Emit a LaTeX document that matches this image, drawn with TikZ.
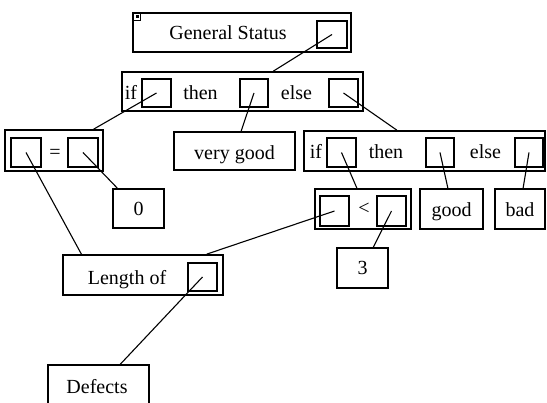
\documentclass[tikz,border=0pt]{standalone}
\usepackage{fontspec}
\setmainfont{Liberation Serif}
\usetikzlibrary{calc}
\begin{document}
\begin{tikzpicture}[x=1pt,y=-1pt,
  frame/.style={draw, line width=1.7pt, rectangle, inner sep=0pt},
  slot/.style={draw, line width=1.4pt, rectangle, inner sep=0pt},
  link/.style={line width=1.1pt},
  lbl/.style={inner sep=0pt, anchor=base, font=\fontsize{20}{24}\selectfont},
  op/.style={inner sep=0pt, font=\fontsize{20}{24}\selectfont}]
\useasboundingbox (0,0) rectangle (547,403);
\clip (0,0) rectangle (547,403);

% ---- General Status
\node[frame, minimum width=218pt, minimum height=39pt] (GS) at (242,32.5) {};
\node[slot, minimum width=30pt, minimum height=27pt] (GSq) at (332,34.5) {};
\node[draw, line width=0.9pt, minimum width=7pt, minimum height=7pt, inner sep=0pt] (GSmark) at (137,16.5) {};
\node[fill, minimum width=3pt, minimum height=3pt, inner sep=0pt] (GSdot) at (GSmark.center) {};
\node[lbl] (tGS) at (228,39.5) {General Status};

% ---- outer if / then / else
\node[frame, minimum width=241pt, minimum height=39pt] (ITE1) at (242.5,91.5) {};
\node[slot, minimum width=29pt, minimum height=28pt] (ITE1a) at (156.5,93) {};
\node[slot, minimum width=28pt, minimum height=28pt] (ITE1b) at (254,93) {};
\node[slot, minimum width=29pt, minimum height=28pt] (ITE1c) at (343.5,93) {};
\node[lbl] (tIf1) at (131,99.5) {if};
\node[lbl] (tThen1) at (200.5,99.5) {then};
\node[lbl] (tElse1) at (296.5,99.5) {else};

% ---- comparison  [] = []
\node[frame, minimum width=98pt, minimum height=41pt] (EQ) at (54,150.5) {};
\node[slot, minimum width=30pt, minimum height=29pt] (EQa) at (26,152.5) {};
\node[slot, minimum width=30pt, minimum height=29pt] (EQb) at (83,152.5) {};
\node[op] (tEq) at (55,154) {=};

\node[frame, minimum width=51pt, minimum height=39pt] (ZERO) at (138.5,208.5) {};
\node[lbl] (tZero) at (138.5,216) {0};

\node[frame, minimum width=121pt, minimum height=38pt] (VG) at (234.5,151) {};
\node[lbl] (tVG) at (234.5,160) {very good};

% ---- inner if / then / else
\node[frame, minimum width=241pt, minimum height=40pt] (ITE2) at (424.5,151) {};
\node[slot, minimum width=29pt, minimum height=29pt] (ITE2a) at (341.5,152.5) {};
\node[slot, minimum width=28pt, minimum height=29pt] (ITE2b) at (440,152.5) {};
\node[slot, minimum width=28pt, minimum height=29pt] (ITE2c) at (529,152.5) {};
\node[lbl] (tIf2) at (316,159) {if};
\node[lbl] (tThen2) at (386,159) {then};
\node[lbl] (tElse2) at (485.5,159) {else};

% ---- comparison  [] < []
\node[frame, minimum width=96pt, minimum height=40pt] (LT) at (363,209) {};
\node[slot, minimum width=29pt, minimum height=30pt] (LTa) at (334.5,211) {};
\node[slot, minimum width=29pt, minimum height=30pt] (LTb) at (391.5,211) {};
\node[op] (tLt) at (364,209) {<};

\node[frame, minimum width=63pt, minimum height=40pt] (GOOD) at (451.5,209) {};
\node[lbl] (tGood) at (451.5,216.5) {good};
\node[frame, minimum width=50pt, minimum height=40pt] (BAD) at (520,209) {};
\node[lbl] (tBad) at (520,217) {bad};

\node[frame, minimum width=51pt, minimum height=40pt] (THREE) at (362.5,268) {};
\node[lbl] (tThree) at (362.5,275) {3};

% ---- Length of []
\node[frame, minimum width=160pt, minimum height=40pt] (LEN) at (143,275) {};
\node[slot, minimum width=29pt, minimum height=28pt] (LENa) at (202.5,277) {};
\node[lbl] (tLen) at (127,285) {Length of};

\node[frame, minimum width=101pt, minimum height=50pt] (DEF) at (98.5,390) {};
\node[lbl] (tDef) at (97,393.5) {Defects};

% ---- connectors: slot centre to the top edge of the argument box
\draw[link] (GSq.center)   -- ($(ITE1.north west)!0.627!(ITE1.north east)$);
\draw[link] (ITE1a.center) -- ($(EQ.north west)!0.898!(EQ.north east)$);
\draw[link] (ITE1b.center) -- ($(VG.north west)!0.554!(VG.north east)$);
\draw[link] (ITE1c.center) -- ($(ITE2.north west)!0.386!(ITE2.north east)$);
\draw[link] (EQa.center)   -- ($(LEN.north west)!0.119!(LEN.north east)$);
\draw[link] (EQb.center)   -- ($(ZERO.north west)!0.098!(ZERO.north east)$);
\draw[link] (ITE2a.center) -- ($(LT.north west)!0.4375!(LT.north east)$);
\draw[link] (ITE2b.center) -- ($(GOOD.north west)!0.444!(GOOD.north east)$);
\draw[link] (ITE2c.center) -- ($(BAD.north west)!0.56!(BAD.north east)$);
\draw[link] (LTa.center)   -- ($(LEN.north west)!0.894!(LEN.north east)$);
\draw[link] (LTb.center)   -- ($(THREE.north west)!0.706!(THREE.north east)$);
\draw[link] (LENa.center)  -- ($(DEF.north west)!0.713!(DEF.north east)$);
\end{tikzpicture}
\end{document}
